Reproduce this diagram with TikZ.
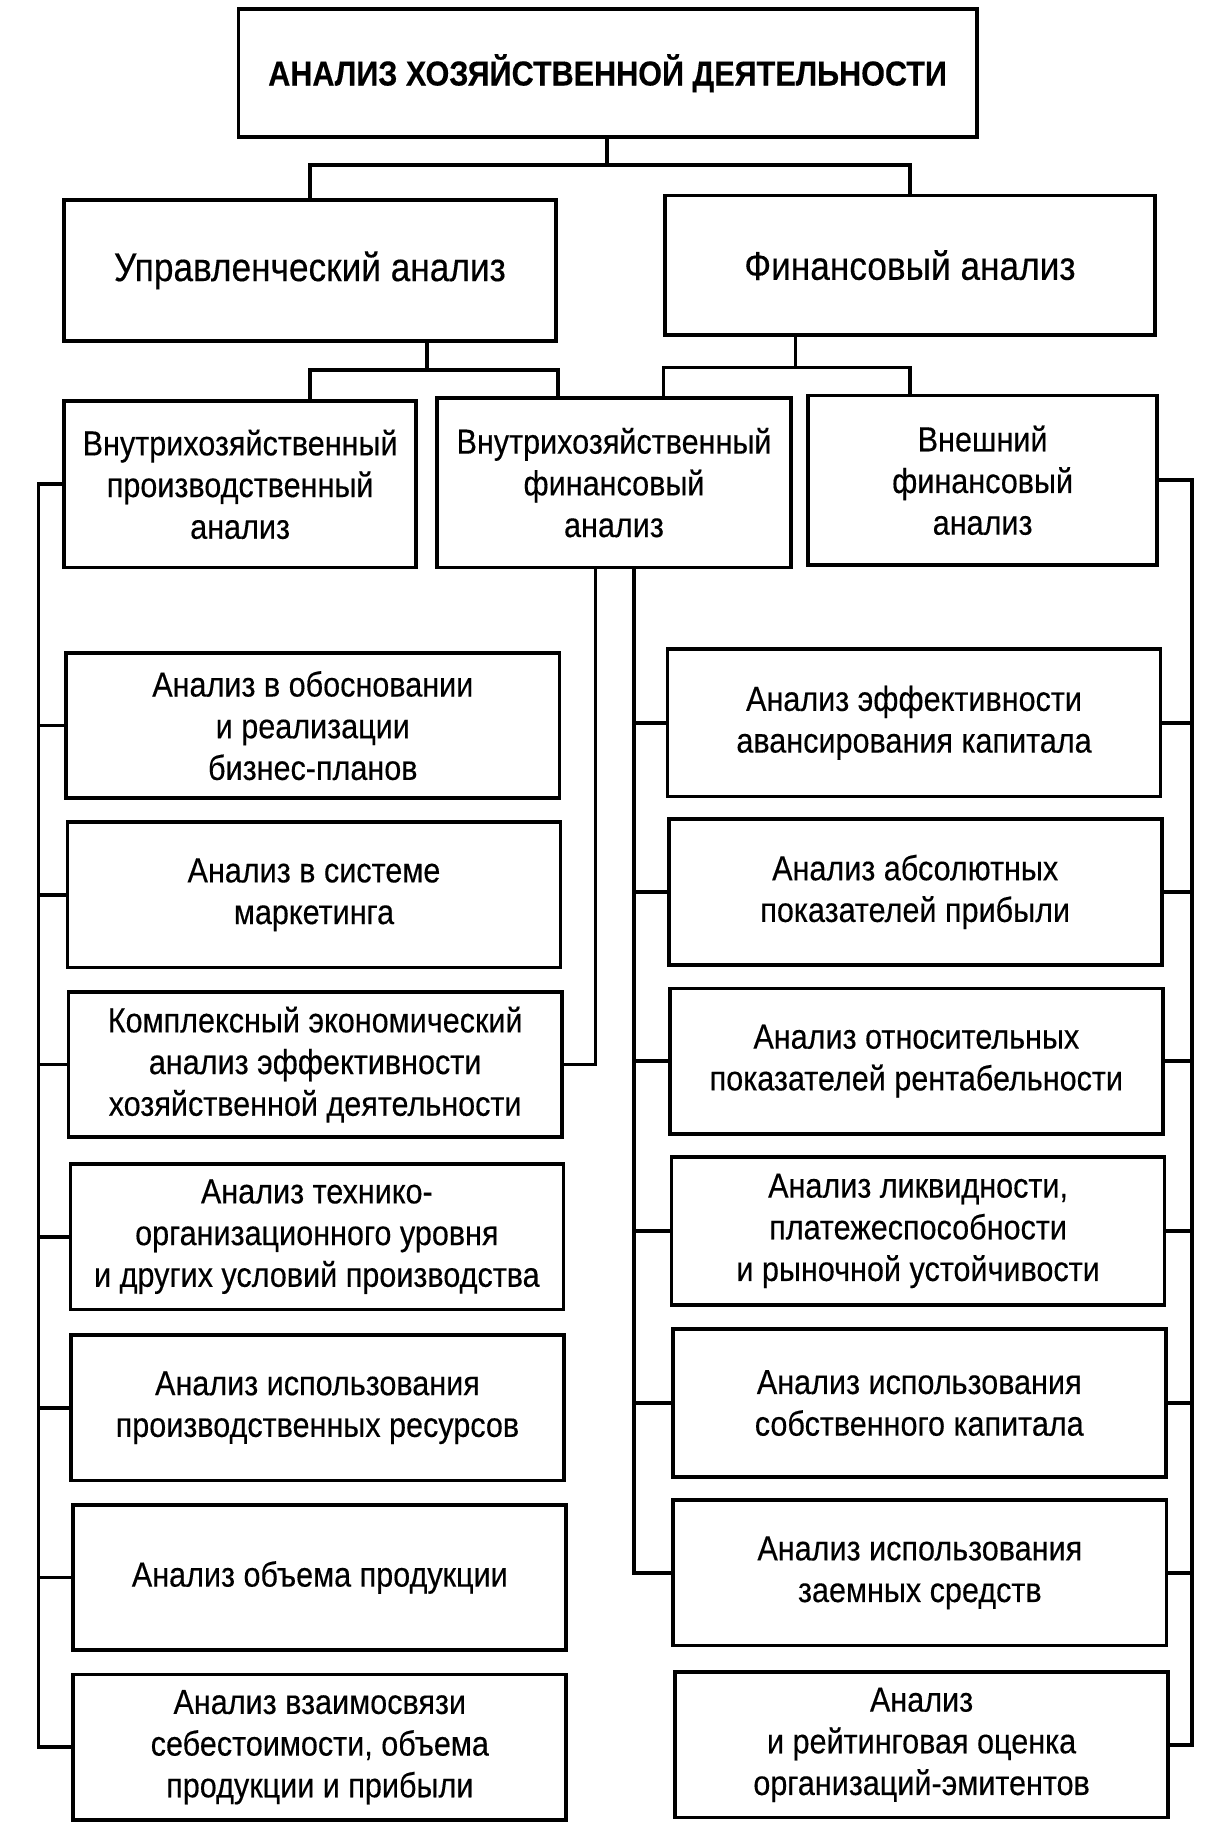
\documentclass[tikz,border=0pt]{standalone}
\usepackage{fontspec}
\setmainfont{Liberation Sans}[FakeStretch=0.88, FakeBold=0.3]
\tikzset{box/.style={draw, line width=0.9pt, align=center, inner sep=2pt,
  minimum width=42.4mm, minimum height=12.5mm, font=\fontsize{8.5}{10.2}\selectfont},
  link/.style={line width=0.9pt}}

\begin{document}
\begin{tikzpicture}[x=0.1mm, y=-0.1mm]
\useasboundingbox (0,0) rectangle (1050,1584);
% levels 1 and 2
\node[box, minimum width=63.5mm, minimum height=11mm, font=\bfseries\fontsize{8.5}{10.2}\selectfont] (T) at (522.5,63) {АНАЛИЗ ХОЗЯЙСТВЕННОЙ ДЕЯТЕЛЬНОСТИ};
\node[box, minimum width=42.3mm, minimum height=12.1mm, font=\fontsize{9.8}{11.8}\selectfont] (U) at (266.5,232.5) {Управленческий анализ};
\node[box, minimum width=42.1mm, minimum height=12mm, font=\fontsize{9.8}{11.8}\selectfont] (F) at (782.5,228) {Финансовый анализ};
% level 3
\node[box, minimum width=30.3mm, minimum height=14.3mm] (VP) at (206.5,416.5) {Внутрихозяйственный\\производственный\\анализ};
\node[box, minimum width=30.4mm, minimum height=14.6mm] (VF) at (528,415) {Внутрихозяйственный\\финансовый\\анализ};
\node[box, minimum width=30mm, minimum height=14.6mm] (EF) at (845,413) {Внешний\\финансовый\\анализ};
% left column
\node[box] (L1) at (269,624) {Анализ в обосновании\\и реализации\\бизнес-планов};
\node[box] (L2) at (270,769.5) {Анализ в системе\\маркетинга};
\node[box] (L3) at (271,915.5) {Комплексный экономический\\анализ эффективности\\хозяйственной деятельности};
\node[box] (L4) at (272.5,1063.5) {Анализ технико-\\организационного уровня\\и других условий производства};
\node[box] (L5) at (273,1210.5) {Анализ использования\\производственных ресурсов};
\node[box] (L6) at (275,1356.5) {Анализ объема продукции};
\node[box] (L7) at (275,1502.5) {Анализ взаимосвязи\\себестоимости, объема\\продукции и прибыли};
% right column
\node[box, minimum height=12.7mm] (R1) at (786,621.5) {Анализ эффективности\\авансирования капитала};
\node[box, minimum height=12.6mm] (R2) at (787,767) {Анализ абсолютных\\показателей прибыли};
\node[box] (R3) at (788,912.5) {Анализ относительных\\показателей рентабельности};
\node[box, minimum height=12.7mm] (R4) at (789.5,1058.5) {Анализ ликвидности,\\платежеспособности\\и рыночной устойчивости};
\node[box, minimum height=12.7mm] (R5) at (790.5,1206.5) {Анализ использования\\собственного капитала};
\node[box] (R6) at (791,1352.5) {Анализ использования\\заемных средств};
\node[box] (R7) at (792.5,1500.5) {Анализ\\и рейтинговая оценка\\организаций-эмитентов};
% links
\coordinate (j0) at (522,142);
\coordinate (j1) at (367,318);
\coordinate (j2) at (684,316);
\draw[link] (T.south -| j0) -- (j0);
\draw[link] (U.north) |- (j0) -| (F.north);
\draw[link] (U.south -| j1) -- (j1);
\draw[link] (VP.north -| U) |- (j1) -| (VF.north -| U.east);
\draw[link] (F.south -| j2) -- (j2);
\draw[link] (VF.north -| F.west) |- (j2) -| (EF.north -| F);
% buses
\coordinate (bl) at (33,0);
\coordinate (bm) at (512,0);
\coordinate (bn) at (545,0);
\coordinate (br) at (1025,0);
\draw[link] (VP.west) -| (bl |- L7.west) -- (L7.west);
\foreach \i in {1,...,6}
\draw[link] (L\i.west) -- (bl |- L\i.west);
\draw[link] (VF.south -| bm) |- (L3.east);
\draw[link] (VF.south -| bn) |- (R6.west);
\foreach \i in {1,...,5}
\draw[link] (R\i.west) -- (bn |- R\i.west);
\draw[link] (EF.east) -| (br |- R7.east) -- (R7.east);
\foreach \i in {1,...,6}
\draw[link] (R\i.east) -- (br |- R\i.east);
\end{tikzpicture}
\end{document}
